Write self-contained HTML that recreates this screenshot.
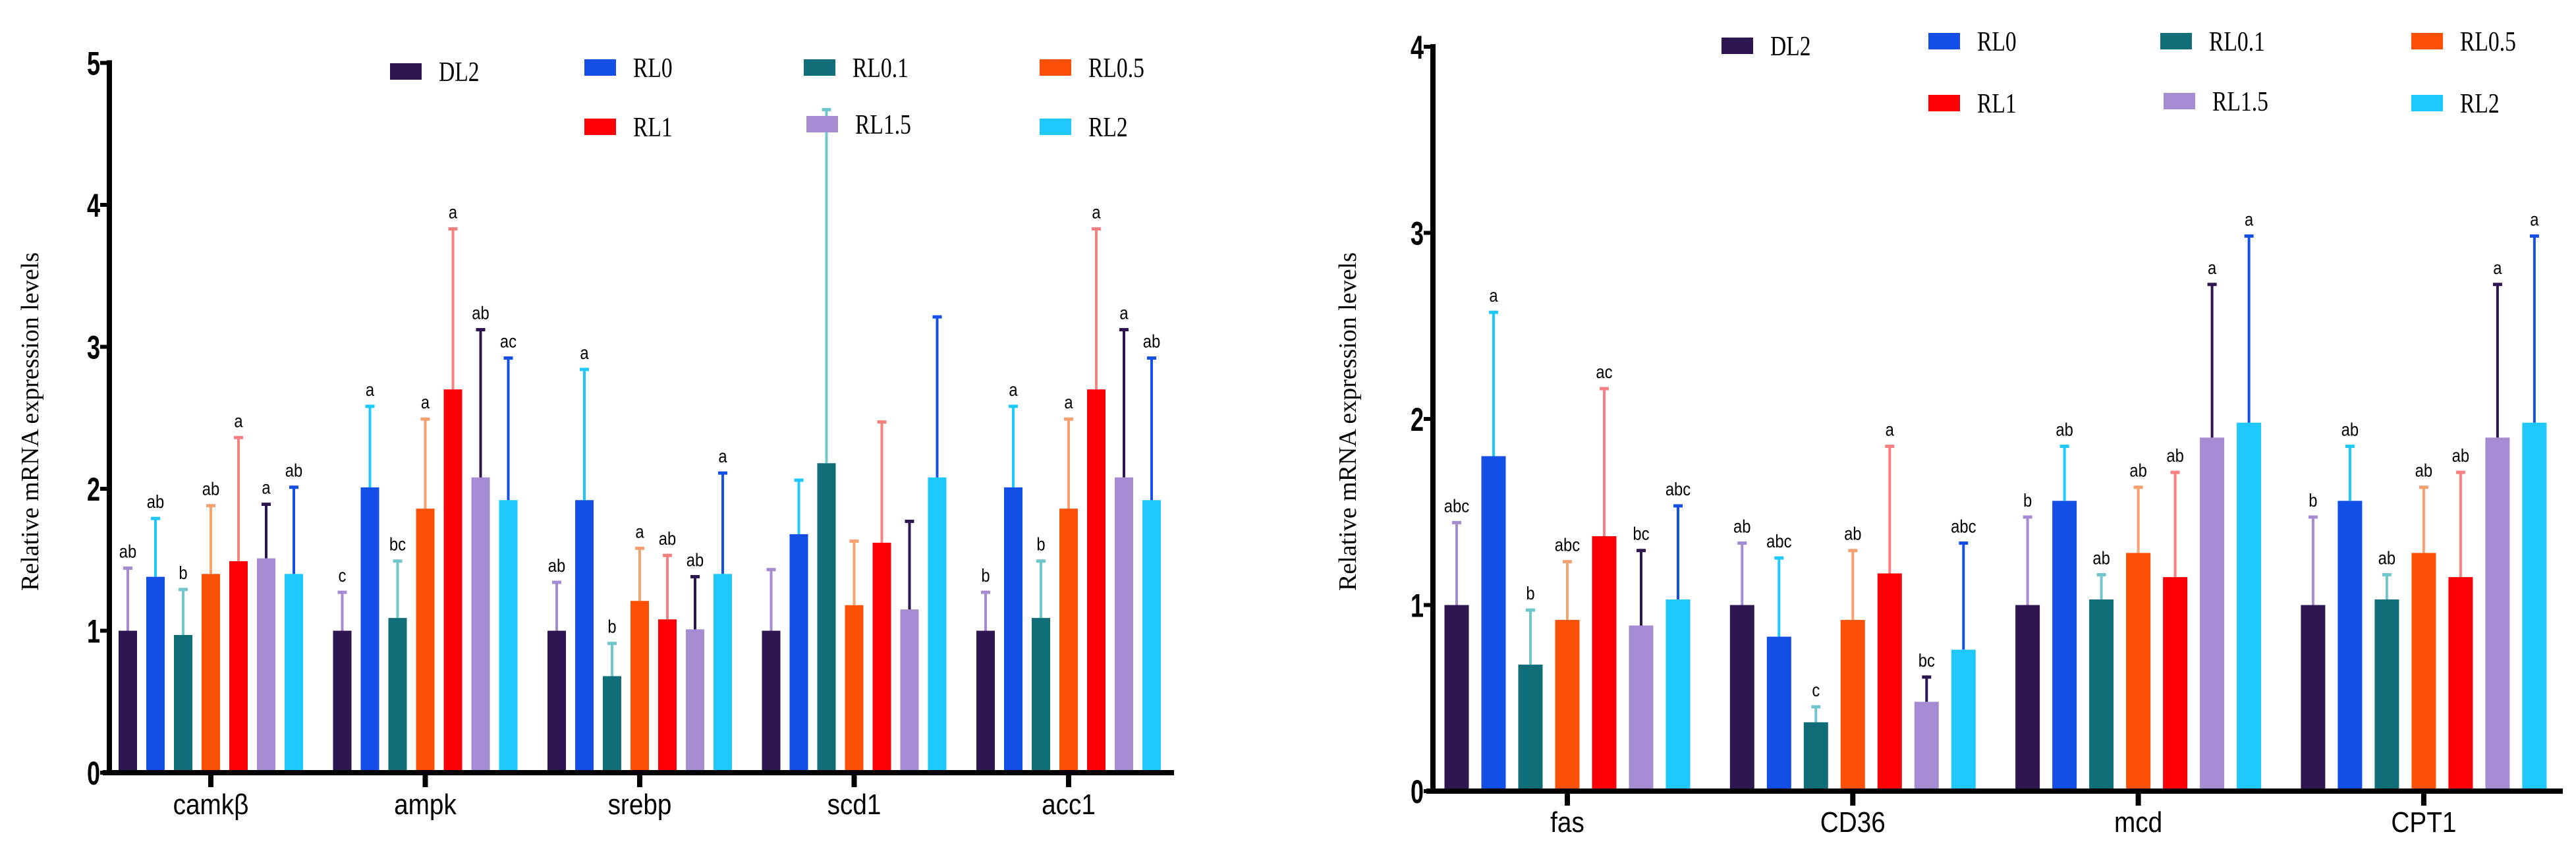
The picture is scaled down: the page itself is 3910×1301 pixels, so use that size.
<!DOCTYPE html>
<html><head><meta charset="utf-8">
<style>
html,body{margin:0;padding:0;background:#fff;}
svg{display:block;}
.tick{font-family:"Liberation Sans",sans-serif;font-weight:bold;font-size:50px;}
.cat{font-family:"Liberation Sans",sans-serif;font-size:44px;}
.leg{font-family:"Liberation Serif",serif;font-size:42px;}
.sig{font-family:"Liberation Sans",sans-serif;font-size:28px;}
.ytitle{font-family:"Liberation Serif",serif;font-size:38px;}
</style></head>
<body>
<svg id="chart" width="3910" height="1301" viewBox="0 0 3910 1301" xmlns="http://www.w3.org/2000/svg">
<rect x="0" y="0" width="3910" height="1301" fill="#fff"/>
</svg>
<script>
const groups = ["DL2","RL0","RL0.1","RL0.5","RL1","RL1.5","RL2"];
const barColors = ["#2e1650","#134fe6","#0f6e78","#fc5006","#fd0006","#a48bd2","#1ec8fd"];
const errColors = ["#a58bd2","#1ec8fb","#6fc6cc","#f7a070","#f78080","#2d1650","#1450e6"];

const leftCategories = ["camkβ","ampk","srebp","scd1","acc1"];
const leftMeans = [
  [1.00,1.38,0.97,1.40,1.49,1.51,1.40],
  [1.00,2.01,1.09,1.86,2.70,2.08,1.92],
  [1.00,1.92,0.68,1.21,1.08,1.01,1.40],
  [1.00,1.68,2.18,1.18,1.62,1.15,2.08],
  [1.00,2.01,1.09,1.86,2.70,2.08,1.92]
];
const leftErrTops = [
  [1.45,1.80,1.30,1.89,2.37,1.90,2.02],
  [1.28,2.59,1.50,2.50,3.84,3.13,2.93],
  [1.35,2.85,0.92,1.59,1.54,1.39,2.12],
  [1.44,2.07,4.68,1.64,2.48,1.78,3.22],
  [1.28,2.59,1.50,2.50,3.84,3.13,2.93]
];
const leftLetters = [
  ["ab","ab","b","ab","a","a","ab"],
  ["c","a","bc","a","a","ab","ac"],
  ["ab","a","b","a","ab","ab","a"],
  ["","","","","","",""],
  ["b","a","b","a","a","a","ab"]
];
const leftTicks = [0,1,2,3,4,5];

const rightCategories = ["fas","CD36","mcd","CPT1"];
const rightMeans = [
  [1.00,1.80,0.68,0.92,1.37,0.89,1.03],
  [1.00,0.83,0.37,0.92,1.17,0.48,0.76],
  [1.00,1.56,1.03,1.28,1.15,1.90,1.98],
  [1.00,1.56,1.03,1.28,1.15,1.90,1.98]
];
const rightErrTops = [
  [1.45,2.58,0.98,1.24,2.17,1.30,1.54],
  [1.34,1.26,0.46,1.30,1.86,0.62,1.34],
  [1.48,1.86,1.17,1.64,1.72,2.73,2.99],
  [1.48,1.86,1.17,1.64,1.72,2.73,2.99]
];
const rightLetters = [
  ["abc","a","b","abc","ac","bc","abc"],
  ["ab","abc","c","ab","a","bc","abc"],
  ["b","ab","ab","ab","ab","a","a"],
  ["b","ab","ab","ab","ab","a","a"]
];
const rightTicks = [0,1,2,3,4];

const NS = "http://www.w3.org/2000/svg";
const svg = document.getElementById("chart");
function mk(tag, attrs, parent){
  const e = document.createElementNS(NS, tag);
  for (const k in attrs) e.setAttribute(k, attrs[k]);
  (parent||svg).appendChild(e);
  return e;
}

function drawChart(cfg, cats, means, errs, letters, ticks){
  const g = mk("g", {});
  
  
  const y = v => cfg.y0 - v * cfg.unit;
  const catX = i => cfg.cat0 + i * cfg.catStep;
  cats.forEach((c, ci) => {
    groups.forEach((gname, gi) => {
      const cx = catX(ci) + (gi - 3) * cfg.pitch;
      const r = mk("rect", {x: cx - cfg.bw/2, y: y(means[ci][gi]), width: cfg.bw, height: cfg.y0 - y(means[ci][gi]), fill: barColors[gi]}, g);
      
      
      const et = y(errs[ci][gi]);
      const l = mk("line", {x1: cx, x2: cx, y1: y(means[ci][gi]), y2: et, stroke: errColors[gi], "stroke-width": 4}, g);
      
      
      mk("line", {x1: cx - 7, x2: cx + 7, y1: et + 2, y2: et + 2, stroke: errColors[gi], "stroke-width": 5}, g);
      if (letters[ci][gi]) {
        const t = mk("text", {x: cx, y: et - 14, "text-anchor": "middle", class: "sig", transform: "translate(" + cx + ",0) scale(0.85,1) translate(" + (-cx) + ",0)"}, g);
        t.textContent = letters[ci][gi];
        
        
      }
    });
    mk("line", {x1: catX(ci), x2: catX(ci), y1: cfg.y0, y2: cfg.y0 + 22, stroke: "#000", "stroke-width": 8}, g);
    const t = mk("text", {x: catX(ci), y: cfg.catY, "text-anchor": "middle", class: "cat", transform: "translate(" + catX(ci) + ",0) scale(0.88,1) translate(" + (-catX(ci)) + ",0)"}, g);
    t.textContent = c;
    
    
  });
  const ya = mk("line", {x1: cfg.ax, x2: cfg.ax, y1: y(ticks[ticks.length-1]) - 4, y2: cfg.y0 + 4, stroke: "#000", "stroke-width": 8}, g);
  
  
  const xa = mk("line", {x1: cfg.ax - 10, x2: cfg.axEnd, y1: cfg.y0, y2: cfg.y0, stroke: "#000", "stroke-width": 8}, g);
  
  
  ticks.forEach(v => {
    mk("line", {x1: cfg.ax - 14, x2: cfg.ax, y1: y(v), y2: y(v), stroke: "#000", "stroke-width": 6}, g);
    const tx = cfg.ax - 14;
    const t = mk("text", {x: tx, y: y(v) + 18, "text-anchor": "end", class: "tick", transform: "translate(" + tx + ",0) scale(0.72,1) translate(" + (-tx) + ",0)"}, g);
    t.textContent = v;
    
    
  });
  const yt = mk("text", {x: 0, y: 0, "text-anchor": "middle", class: "ytitle", transform: "translate(" + cfg.titleX + "," + cfg.titleY + ") rotate(-90)"}, g);
  yt.textContent = "Relative mRNA expression levels";
  
  
  groups.forEach((gname, gi) => {
    const p = cfg.legend[gi];
    const s = mk("rect", {x: p[0], y: p[1] - 12, width: 48, height: 25, fill: barColors[gi]}, g);
    
    
    const tx = p[0] + 74;
    const t = mk("text", {x: tx, y: p[1] + 15, class: "leg", transform: "translate(" + tx + ",0) scale(0.8,1) translate(" + (-tx) + ",0)"}, g);
    t.textContent = gname;
    
    
  });
}

drawChart({name: "left-chart", y0: 1173, unit: 215.5, cat0: 320, catStep: 325.5, pitch: 42, bw: 28,
  ax: 166, axEnd: 1782, catY: 1236, titleX: 58, titleY: 640,
  legend: [[592,108],[887,102],[1220,102],[1578,102],[887,192],[1224,188],[1578,192]]},
  leftCategories, leftMeans, leftErrTops, leftLetters, leftTicks);

drawChart({name: "right-chart", y0: 1201, unit: 282.5, cat0: 2379, catStep: 433.3, pitch: 56, bw: 37,
  ax: 2175, axEnd: 3890, catY: 1263, titleX: 2058, titleY: 640,
  legend: [[2613,69],[2927,62],[3279,62],[3660,62],[2927,156],[3284,153],[3660,156]]},
  rightCategories, rightMeans, rightErrTops, rightLetters, rightTicks);
</script>
</body></html>
